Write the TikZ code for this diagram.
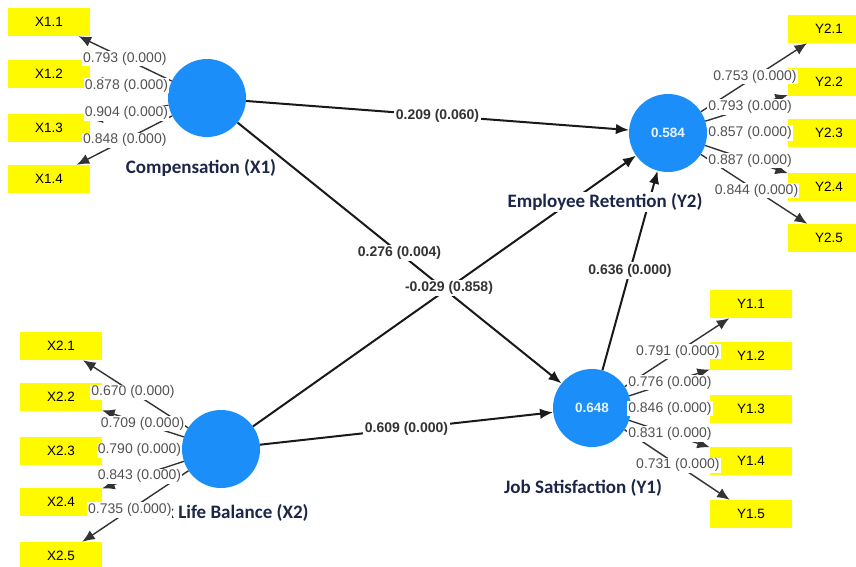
\documentclass[tikz,border=0pt]{standalone}
\usepackage{fontspec}
\setmainfont{Liberation Sans}
\newfontfamily\lvfont{Carlito}
\usetikzlibrary{arrows.meta,calc}

\definecolor{lvblue}{RGB}{28,142,250}
\definecolor{indyellow}{RGB}{255,250,0}
\definecolor{lvname}{RGB}{28,38,72}

\tikzset{
  latent/.style={circle, fill=lvblue, minimum size=78pt, inner sep=0pt, text=white!90!lvblue, font=\bfseries\fontsize{13.5}{14}\selectfont},
  indicator/.style={rectangle, fill=indyellow, minimum width=82pt, minimum height=28pt, inner sep=0pt, font=\fontsize{13.5}{14}\selectfont},
  loading/.style={-{Latex[length=12.5pt,width=10.5pt]}, line width=1.4pt, draw=black!80},
  structural/.style={-{Latex[length=13pt,width=10.5pt]}, line width=2pt, draw=black!90},
  loadlabel/.style={fill=white, inner sep=1pt, text=black!68, font=\fontsize{14}{14}\selectfont},
  pathlabel/.style={fill=white, inner sep=1.5pt, text=black!80, font=\bfseries\fontsize{14}{14}\selectfont},
  lvlabel/.style={fill=white, inner sep=1pt, text=lvname, font=\lvfont\bfseries\fontsize{19}{19}\selectfont}
}

\begin{document}
\begin{tikzpicture}[x=1pt,y=-1pt]
  \useasboundingbox (0,0) rectangle (856,566);
  \fill[white] (0,0) rectangle (856,566);
  \clip (0,0) rectangle (856,566);

  % constructs
  \node[latent] (X1) at (207,98) {};
  \node[latent] (X2) at (221,449) {};
  \node[latent] (Y2) at (668,133) {0.584};
  \node[latent] (Y1) at (592,408) {0.648};

  % indicators
  \foreach \i/\y in {1/22,2/74,3/128,4/179}
    \node[indicator] (x1\i) at (49,\y) {X1.\i};
  \foreach \i/\y in {1/346,2/397,3/451,4/502,5/556}
    \node[indicator] (x2\i) at (61,\y) {X2.\i};
  \foreach \i/\y in {1/29,2/82,3/133,4/187,5/238}
    \node[indicator] (y2\i) at (829,\y) {Y2.\i};
  \foreach \i/\y in {1/304,2/356,3/409,4/461,5/514}
    \node[indicator] (y1\i) at (751,\y) {Y1.\i};

  % outer loadings
  \foreach \i in {1,...,4} \draw[loading] (X1) -- (x1\i);
  \foreach \i in {1,...,5} {
    \draw[loading] (X2) -- (x2\i);
    \draw[loading] (Y2) -- (y2\i);
    \draw[loading] (Y1) -- (y1\i);
  }

  % inner model
  \draw[structural] (X1) -- (Y2) node[pathlabel, pos=0.5] (p1) {0.209 (0.060)};
  \draw[structural] (X1) -- (Y1);
  \draw[structural] (X2) -- (Y2);
  \draw[structural] (X2) -- (Y1) node[pathlabel, pos=0.5] (p4) {0.609 (0.000)};
  \draw[structural] (Y1) -- (Y2) node[pathlabel, pos=0.5] (p5) {0.636 (0.000)};
  \node[pathlabel] (p2) at ($(X1)!0.5!(Y1)$) {0.276 (0.004)};
  \node[pathlabel] (p3) at ($(X2)!0.51!(Y2)$) {-0.029 (0.858)};

  % construct names
  \node[lvlabel] (n1) at (201,168) {Compensation (X1)};
  \node[lvlabel] (n2) at (220,513) {Work Life Balance (X2)};
  \node[lvlabel] (n3) at (605,202) {Employee Retention (Y2)};
  \node[lvlabel] (n4) at (583,488) {Job Satisfaction (Y1)};

  % loading labels
  \foreach \i/\v/\f in {1/0.793/0.52,2/0.878/0.51,3/0.904/0.51,4/0.848/0.52}
    \node[loadlabel] (lx1\i) at ($(X1)!\f!(x1\i)$) {\v\ (0.000)};
  \foreach \i/\v/\f in {1/0.670/0.55,2/0.709/0.49,3/0.790/0.51,4/0.843/0.51,5/0.735/0.57}
    \node[loadlabel] (lx2\i) at ($(X2)!\f!(x2\i)$) {\v\ (0.000)};
  \foreach \i/\v/\f in {1/0.753/0.54,2/0.793/0.51,3/0.857/0.51,4/0.887/0.51,5/0.844/0.55}
    \node[loadlabel] (ly2\i) at ($(Y2)!\f!(y2\i)$) {\v\ (0.000)};
  \foreach \i/\v/\f in {1/0.791/0.54,2/0.776/0.49,3/0.846/0.49,4/0.831/0.49,5/0.731/0.54}
    \node[loadlabel] (ly1\i) at ($(Y1)!\f!(y1\i)$) {\v\ (0.000)};
\end{tikzpicture}
\end{document}
